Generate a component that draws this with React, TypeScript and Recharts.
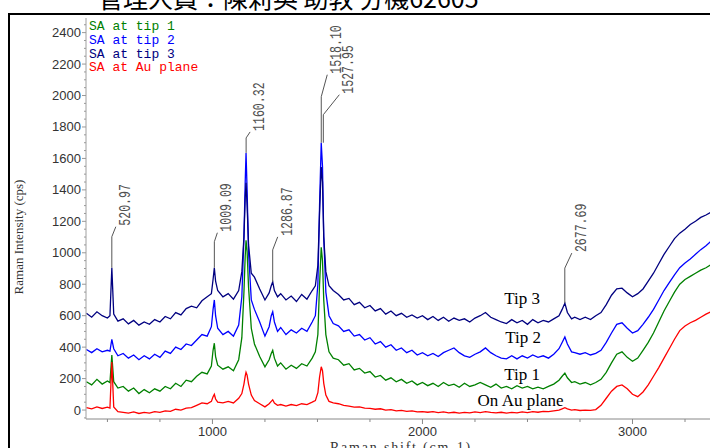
import { LineChart, Line, XAxis, YAxis, ReferenceDot } from "recharts";

// Raman shift (cm-1) sample positions shared by every spectrum
const shift = [
  400, 425, 450, 475, 500, 512, 521, 530, 550,
  575, 600, 625, 650, 675, 700, 725, 750, 775, 800, 825, 850, 875, 900, 925, 950, 975,
  995, 1003, 1009, 1015, 1025, 1050, 1075, 1100, 1125,
  1140, 1150, 1156, 1160, 1165, 1172, 1185, 1200, 1225, 1250,
  1270, 1280, 1287, 1295, 1310, 1325, 1350, 1375, 1400, 1425, 1450, 1475, 1490,
  1502, 1510, 1518, 1524, 1530, 1540, 1555, 1575,
  1600, 1625, 1650, 1675, 1700, 1725, 1750, 1775, 1800, 1825, 1850, 1875, 1900, 1925, 1950, 1975, 2000,
  2025, 2050, 2075, 2100, 2125, 2150, 2175, 2200, 2225, 2250, 2275, 2300, 2325, 2350, 2375, 2400,
  2425, 2450, 2475, 2500, 2525, 2550, 2575, 2600, 2625, 2650,
  2665, 2678, 2690, 2710, 2725, 2750,
  2775, 2800, 2825, 2850, 2875, 2900, 2925, 2950, 2975, 3000, 3025, 3050, 3075,
  3100, 3125, 3150, 3175, 3200, 3225, 3250, 3275, 3300, 3325, 3350, 3375,
];

const tip1 = [
  180, 160, 195, 165, 185, 175, 350, 180, 140,
  150, 120, 140, 105, 130, 110, 135, 120, 150, 135, 170, 150, 190, 180, 215, 240, 230,
  280, 380, 425, 340, 285, 260, 275, 250, 320,
  460, 750, 980, 1080, 1010, 780, 520, 420, 340, 275,
  320, 360, 380, 330, 280, 300, 260, 285, 265, 295, 280, 330, 370,
  480, 800, 1035, 950, 700, 480, 370, 330,
  320, 285, 295, 255, 265, 235, 245, 210, 220, 190, 205, 180, 195, 170, 185, 160, 175,
  155, 170, 150, 175, 155, 165, 145, 170, 150, 160, 175, 160, 145, 165, 140, 150,
  135, 155, 140, 150, 135, 145, 135, 150, 165, 190,
  215, 235, 205, 175, 180, 165,
  175, 160, 175, 195, 240, 300, 355, 370, 335, 310, 330, 380, 430,
  490, 560, 630, 690, 750, 800, 830, 850, 870, 890, 905, 925,
];

const tip2 = [
  385, 365, 390, 370, 380, 375, 450, 390, 345,
  360, 330, 350, 320, 345, 325, 355, 335, 375, 360, 400, 385, 420, 410, 445, 480, 470,
  530, 640, 700, 600, 520, 480, 500, 470, 540,
  720, 1100, 1450, 1635, 1400, 1000, 700, 640, 560, 470,
  530, 600, 625, 560, 500, 525, 480, 510, 490, 520, 500, 560, 600,
  800, 1300, 1700, 1550, 1100, 750, 600, 550,
  535, 500, 510, 470, 480, 445, 460, 420, 435, 400, 415, 380, 395, 365, 380, 350, 365,
  345, 360, 340, 365, 380, 395, 365, 345, 335, 355, 370, 395, 365, 345, 330, 325,
  345, 325, 345, 330, 350, 335, 345, 330, 355, 390,
  430, 465, 420, 370, 365, 355,
  365, 350, 360, 380, 430, 490, 545, 555, 520, 490, 505, 545, 590,
  640, 700, 760, 810, 860, 905, 935, 960, 990, 1020, 1045, 1075,
];

const tip3 = [
  615, 590, 625, 600, 585, 600, 905, 610, 565,
  580, 548, 570, 540, 560, 545, 575, 560, 595, 580, 620, 605, 645, 660, 650, 695, 720,
  740, 830, 905, 820, 760, 720, 740, 705, 760,
  880, 1100, 1350, 1445, 1300, 1050, 870, 845, 770, 700,
  745, 790, 815, 760, 720, 740, 700, 725, 690, 735, 705, 760, 790,
  920, 1250, 1545, 1450, 1100, 880, 790, 760,
  735, 700, 710, 670, 685, 650, 665, 630, 645, 610, 630, 600, 615, 590, 605, 585, 600,
  575, 595, 570, 590, 565, 585, 570, 580, 560, 585, 600, 620, 590, 575, 560, 550,
  575, 555, 570, 545, 575, 555, 570, 560, 580, 600,
  640, 680, 620, 580, 590, 575,
  590, 575, 600, 620, 670, 730, 770, 775, 745, 720, 740, 770, 820,
  870, 930, 990, 1040, 1090, 1125, 1150, 1180, 1200, 1225, 1240, 1260,
];

const auPlane = [
  15, 8, 20, 10, 18, 12, 305, 20, -10,
  -15, -20, -12, -22, -15, -20, -10, -15, -5, -8, 5, 0, 12, 15, 30, 45, 40,
  55, 85, 100, 70, 50, 45, 55, 45, 75,
  105, 165, 215, 240, 222, 165, 95, 60, 40, 20,
  40, 55, 65, 45, 30, 35, 25, 35, 28, 40, 35, 50, 60,
  110, 210, 275, 250, 170, 95, 55, 45,
  40, 30, 25, 18, 20, 12, 10, 5, 8, 0, 3, -5, -2, -8, -5, -12, -10,
  -14, -10, -16, -12, -18, -14, -20, -15, -18, -12, -16, -10, -15, -18, -14, -20,
  -15, -18, -12, -16, -10, -14, -8, -10, -5, 0,
  8, 15, 8, 0, 2, -3,
  0, -2, 3, 30, 75, 120, 150, 160, 135, 100, 85, 115, 160,
  215, 270, 330, 390, 450, 505, 535, 555, 570, 590, 610, 625,
];

const xTicks = [500, 750, 1000, 1250, 1500, 1750, 2000, 2250, 2500, 2750, 3000, 3250];
const xTickLabels = [1000, 2000, 3000];
const yTicks = [
  -50, 0, 50, 100, 150, 200, 250, 300, 350, 400, 450, 500, 550, 600, 650, 700, 750, 800,
  850, 900, 950, 1000, 1050, 1100, 1150, 1200, 1250, 1300, 1350, 1400, 1450, 1500, 1550,
  1600, 1650, 1700, 1750, 1800, 1850, 1900, 1950, 2000, 2050, 2100, 2150, 2200, 2250,
  2300, 2350, 2400, 2450,
];
const yTickLabels = [0, 200, 400, 600, 800, 1000, 1200, 1400, 1600, 1800, 2000, 2200, 2400];

const peakLabels = ["520.97", "1009.09", "1160.32", "1286.87", "1518.10", "1527.95", "2677.69"];
const peakShift = [520.97, 1009.09, 1160.32, 1286.87, 1518.1, 1527.95, 2677.69];
const peakTop = [905, 905, 1635, 815, 1700, 1700, 680];

const curveNames = ["Tip 3", "Tip 2", "Tip 1", "On Au plane"];
const curveNameShift = [2474, 2479, 2474, 2467];
const curveNameLevel = [674, 426, 191, 25];

// leader line per peak label: vertical rise, then diagonal dx / dy (px)
const leaders = [
  [31, 4, 10],
  [26, 3, 9],
  [15, 4, 6],
  [32, 5, 13],
  [46, 6, 22],
  [28, 16, 20],
  [35, 7, 15],
];

const series = [
  { key: "tip1", name: "SA at tip 1", color: "#008000" },
  { key: "tip2", name: "SA at tip 2", color: "#0000ff" },
  { key: "tip3", name: "SA at tip 3", color: "#000080" },
  { key: "au", name: "SA at Au plane", color: "#ff0000" },
];

const rows = shift.map((s, i) => ({
  shift: s,
  tip1: tip1[i],
  tip2: tip2[i],
  tip3: tip3[i],
  au: auPlane[i],
}));

function YTick({ x, y, payload }: any) {
  const major = yTickLabels.includes(payload.value);
  return (
    <g>
      <line x1={x - (major ? 4 : 2)} x2={x} y1={y} y2={y} stroke="#999" />
      {major && (
        <text x={x - 5} y={y} dy={4.5} textAnchor="end" fontFamily="Liberation Sans" fontSize={13} fill="#333">
          {payload.value}
        </text>
      )}
    </g>
  );
}

function XTick({ x, y, payload }: any) {
  const major = xTickLabels.includes(payload.value);
  return (
    <g>
      <line x1={x} x2={x} y1={y} y2={y + (major ? 5 : 3)} stroke="#888" />
      {major && (
        <text x={x} y={y + 17} textAnchor="middle" fontFamily="Liberation Sans" fontSize={13} fill="#333">
          {payload.value}
        </text>
      )}
    </g>
  );
}

function PeakLabel({ cx, cy, text, lead }: any) {
  const [rise, dx, dy] = lead;
  const y1 = cy - rise;
  const x2 = cx + dx;
  const y2 = y1 - dy;
  return (
    <g>
      <polyline points={`${cx},${cy} ${cx},${y1} ${x2},${y2}`} fill="none" stroke="#555" strokeWidth={1} />
      <text
        transform={`translate(${x2 + 14},${y2 - 1}) rotate(-90) scale(0.68,1)`}
        fontFamily="Liberation Mono"
        fontSize={17}
        fill="#505050"
      >
        {text}
      </text>
    </g>
  );
}

export default function App() {
  return (
    <div style={{ position: "absolute", left: 0, top: 0, width: 710, height: 448, overflow: "hidden", background: "#fff" }}>
      <LineChart width={710} height={448} data={rows} margin={{ top: 18, right: 0, bottom: 0, left: 0 }}>
        <XAxis
          dataKey="shift"
          type="number"
          domain={[398, 3369]}
          allowDataOverflow
          ticks={xTicks}
          interval={0}
          height={29}
          tickSize={0}
          tickMargin={0}
          tickLine={false}
          axisLine={{ stroke: "#888" }}
          tick={<XTick />}
        />
        <YAxis
          type="number"
          domain={[-57, 2493]}
          allowDataOverflow
          ticks={yTicks}
          interval={0}
          width={86}
          tickSize={0}
          tickMargin={0}
          tickLine={false}
          axisLine={{ stroke: "#a0a0a0" }}
          tick={<YTick />}
        />
        {series.map((s) => (
          <Line
            key={s.key}
            dataKey={s.key}
            name={s.name}
            type="linear"
            stroke={s.color}
            strokeWidth={1.3}
            dot={false}
            activeDot={false}
            isAnimationActive={false}
          />
        ))}
        {peakLabels.map((t, i) => (
          <ReferenceDot
            key={t}
            x={peakShift[i]}
            y={peakTop[i]}
            r={0}
            ifOverflow="visible"
            shape={(p: any) => <PeakLabel cx={p.cx} cy={p.cy} text={t} lead={leaders[i]} />}
          />
        ))}
        {curveNames.map((t, i) => (
          <ReferenceDot
            key={t}
            x={curveNameShift[i]}
            y={curveNameLevel[i]}
            r={0}
            ifOverflow="visible"
            shape={(p: any) => (
              <text x={p.cx} y={p.cy} textAnchor="middle" fontFamily="Liberation Serif" fontSize={17} fill="#000">
                {t}
              </text>
            )}
          />
        ))}
      </LineChart>
      <svg width={710} height={448} style={{ position: "absolute", left: 0, top: 0, pointerEvents: "none" }}>
        <text x={98} y={8} fontFamily="Noto Sans CJK TC" fontSize={25} fill="#000">
          管理人員：陳莉英 助教 分機62605
        </text>
        <path d="M9,448 V14 H710" fill="none" stroke="#000" strokeWidth={2} />
        {series.map((s, i) => (
          <text key={s.key} x={89} y={30 + i * 13.8} fontFamily="Liberation Mono" fontSize={13} fill={s.color}>
            {s.name}
          </text>
        ))}
        <text transform="translate(23,237) rotate(-90)" textAnchor="middle" fontFamily="Liberation Serif" fontSize={13} fill="#333">
          Raman Intensity (cps)
        </text>
        <text x={401} y={452} textAnchor="middle" fontFamily="Liberation Serif" fontSize={14} letterSpacing={1.8} fill="#333">
          Raman shift (cm-1)
        </text>
      </svg>
    </div>
  );
}
